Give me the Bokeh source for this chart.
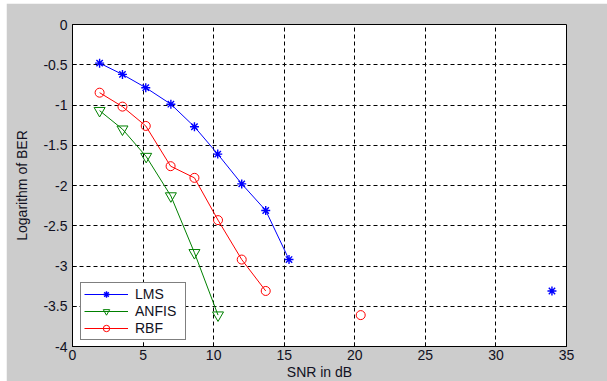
from bokeh.plotting import figure
from bokeh.models import Range1d, Legend, LegendItem, Spacer, FixedTicker
from bokeh.layouts import column, row
from bokeh.embed import file_html
from bokeh.resources import INLINE

# SNR (dB) and log10(BER) for the three equalisers
lms_snr = [1.92, 3.54, 5.19, 6.97, 8.64, 10.29, 11.99, 13.69, 15.34, 33.97]
lms_ber = [-0.48, -0.62, -0.785, -0.99, -1.27, -1.61, -1.98, -2.31, -2.92, -3.31]
lms_connected = 9

anfis_snr = [1.92, 3.54, 5.22, 6.97, 8.64, 10.31]
anfis_ber = [-1.07, -1.30, -1.64, -2.13, -2.835, -3.61]
anfis_connected = 6

rbf_snr = [1.92, 3.54, 5.19, 6.95, 8.64, 10.31, 11.99, 13.69, 20.42]
rbf_ber = [-0.847, -1.02, -1.26, -1.76, -1.905, -2.43, -2.92, -3.31, -3.61]
rbf_connected = 8

x_ticks = [0, 5, 10, 15, 20, 25, 30, 35]
y_ticks = [0, -0.5, -1, -1.5, -2, -2.5, -3, -3.5, -4]
y_tick_labels = ["0", "-0.5", "-1", "-1.5", "-2", "-2.5", "-3", "-3.5", "-4"]

FONT = "Liberation Sans"
FSIZE = "14px"
BG = "#cccccc"
TXT = "#111122"

p = figure(
    frame_width=494, frame_height=322,
    x_range=Range1d(0, 35), y_range=Range1d(-4, 0),
    output_backend="svg", toolbar_location=None,
    background_fill_color="white", border_fill_color=BG,
    min_border_left=66, min_border_right=41,
    min_border_top=21, min_border_bottom=30,
)
p.outline_line_color = "black"
p.outline_line_width = 1

for ax in (p.xaxis[0], p.yaxis[0]):
    ax.axis_line_color = "black"
    ax.major_tick_in = 4
    ax.major_tick_out = 0
    ax.minor_tick_line_color = None
    ax.major_tick_line_color = "black"
    ax.major_label_text_font = FONT
    ax.major_label_text_font_size = FSIZE
    ax.major_label_text_color = TXT
    ax.axis_label_text_font = FONT
    ax.axis_label_text_font_size = FSIZE
    ax.axis_label_text_font_style = "normal"
    ax.axis_label_text_color = TXT

p.xaxis.ticker = FixedTicker(ticks=x_ticks)
p.yaxis.ticker = FixedTicker(ticks=y_ticks)
p.yaxis.major_label_overrides = {t: s for t, s in zip(y_ticks, y_tick_labels)}
p.xaxis.axis_label = "SNR in dB"
p.yaxis.axis_label = "Logarithm of BER"
p.xaxis.major_label_standoff = 3
p.xaxis.axis_label_standoff = 1
p.yaxis.major_label_standoff = 5
p.yaxis.axis_label_standoff = 10

for g in (p.xgrid[0], p.ygrid[0]):
    g.grid_line_color = "black"
    g.grid_line_dash = "4 3"
    g.grid_line_width = 1

BLUE = "#0000ff"
GREEN = "#008000"
RED = "#ff0000"

l1 = p.line(lms_snr[:lms_connected], lms_ber[:lms_connected], line_color=BLUE, line_width=1)
m1 = p.scatter(lms_snr, lms_ber, marker="asterisk", size=9, line_color=BLUE, line_width=1.4)

l2 = p.line(anfis_snr[:anfis_connected], anfis_ber[:anfis_connected], line_color=GREEN, line_width=1)
m2 = p.scatter(anfis_snr, anfis_ber, marker="inverted_triangle", size=11,
               line_color=GREEN, fill_color=None, line_width=1)

l3 = p.line(rbf_snr[:rbf_connected], rbf_ber[:rbf_connected], line_color=RED, line_width=1)
m3 = p.scatter(rbf_snr, rbf_ber, marker="circle", size=9,
               line_color=RED, fill_color=None, line_width=1)

legend = Legend(
    items=[
        LegendItem(label="LMS", renderers=[l1, m1]),
        LegendItem(label="ANFIS", renderers=[l2, m2]),
        LegendItem(label="RBF", renderers=[l3, m3]),
    ],
    location=(8, 6),
    glyph_width=44, glyph_height=16, label_height=16, label_width=47,
    label_standoff=7, spacing=1, padding=3, margin=0,
    border_line_color="black", border_line_width=1,
    background_fill_color="white", background_fill_alpha=1,
    label_text_font=FONT, label_text_font_size=FSIZE, label_text_color=TXT,
)
p.add_layout(legend, "center")

layout = column(Spacer(height=3), row(Spacer(width=6), p))

open("out.html", "w").write(file_html(layout, INLINE))
